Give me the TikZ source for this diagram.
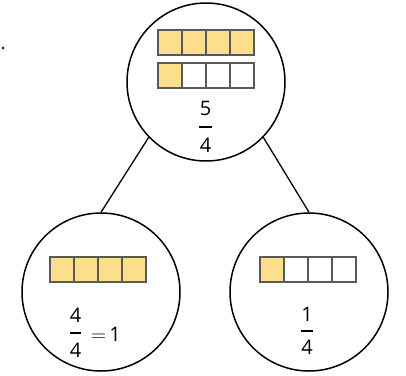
\documentclass[tikz,border=0pt]{standalone}
\usepackage{fontspec}
\setmainfont{Open Sans}
\definecolor{cellfill}{RGB}{252,222,140}
\definecolor{celledge}{RGB}{90,90,90}
\definecolor{dotcol}{RGB}{40,60,90}
\tikzset{
  bubble/.style={circle, draw, line width=1.5pt, minimum size=158pt, inner sep=0pt},
  link/.style={line width=1.3pt},
  cell/.style={draw=celledge, line width=1.5pt},
  num/.style={font=\fontsize{20}{22}\selectfont, inner sep=0pt},
  fracbar/.style={line width=1.3pt}
}
% a strip of four unit cells, the first #3 of them shaded
\newcommand\cellstrip[3]{%
  \foreach \k in {1,...,4}{%
    \pgfmathsetmacro\xa{#1+(\k-1)*24}%
    \ifnum\k>#3\relax
      \draw[cell, fill=white] (\xa,#2) rectangle ++(24,25);
    \else
      \draw[cell, fill=cellfill] (\xa,#2) rectangle ++(24,25);
    \fi
  }%
}
\begin{document}
\begin{tikzpicture}[x=1pt, y=-1pt]
  \useasboundingbox (0,0) rectangle (406,375);

  % bullet at the margin
  \fill[dotcol] (3,48) circle (1.6);

  % the three bubbles
  \node[bubble] (whole) at (206,82) {};
  \node[bubble] (part1) at (101,292) {};
  \node[bubble] (part2) at (309,292) {};

  % branches
  \draw[link] (whole.-136) -- (part1.north);
  \draw[link] (whole.-44) -- (part2.north);

  % fraction strips
  \cellstrip{158}{30}{4}
  \cellstrip{158}{63}{1}
  \cellstrip{50}{257}{4}
  \cellstrip{260}{257}{1}

  % 5/4
  \node[num] (n1) at (205.5,108) {5};
  \draw[fracbar] (199,127) -- (212,127);
  \node[num] (d1) at (205.5,145) {4};

  % 4/4 = 1
  \node[num] (n2) at (75.5,315) {4};
  \draw[fracbar] (70,333) -- (81,333);
  \node[num] (d2) at (75.5,350) {4};
  \node[num, anchor=west] (e2) at (91,334) {$=$\,1};

  % 1/4
  \node[num] (n3) at (307,314) {1};
  \draw[fracbar] (301,331) -- (313,331);
  \node[num] (d3) at (307,347) {4};
\end{tikzpicture}
\end{document}
